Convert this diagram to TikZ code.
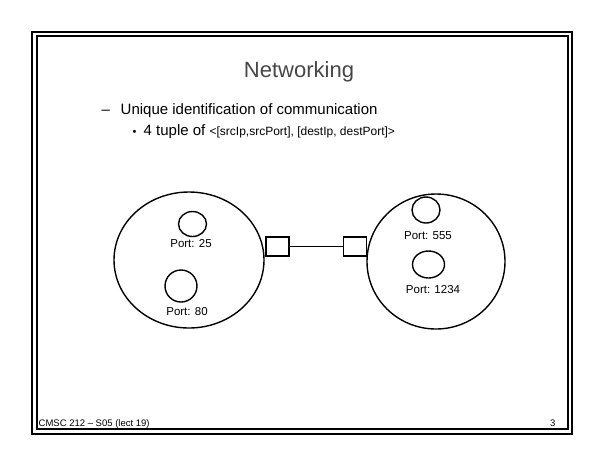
\documentclass[tikz,border=0pt]{standalone}
\usepackage{fontspec}
\setmainfont{Liberation Sans}
\usepackage{tikz}
\usetikzlibrary{shapes.geometric}
\definecolor{titlegray}{RGB}{70,70,70}

\begin{document}
\begin{tikzpicture}[x=1pt,y=-1pt,line width=1.4pt,
  host/.style={draw,ellipse,inner sep=0pt},
  portcirc/.style={draw,ellipse,inner sep=0pt},
  nic/.style={draw,rectangle,inner sep=0pt,minimum width=23pt,minimum height=19pt},
  portlabel/.style={inner sep=0pt,font=\fontsize{11.5}{13}\selectfont},
  bodytext/.style={anchor=base west,inner sep=0pt,font=\fontsize{15}{18}\selectfont}]
  \useasboundingbox (0,0) rectangle (605,467);
  % slide frame
  \draw (32,32) rectangle (572,434);
  \draw (37,36) rectangle (568,429);
  % title and bullets
  \node[anchor=base,inner sep=0pt,text=titlegray,font=\fontsize{22}{26}\selectfont] (title) at (299,77) {Networking};
  \node[bodytext] (dash) at (101,114) {--};
  \node[bodytext] (item) at (120,114) {Unique identification of communication};
  \node[bodytext,font=\fontsize{11}{13}\selectfont] (bullet) at (132,135) {\textbullet};
  \node[bodytext] (subitem) at (143,135) {4 tuple of {\fontsize{12}{14}\selectfont <[srcIp,srcPort], [destIp, destPort]>}};
  % the two hosts
  \node[host,minimum width=150pt,minimum height=136pt] (hostA) at (189,260) {};
  \node[host,minimum width=138pt,minimum height=135pt] (hostB) at (436,261.5) {};
  % ports
  \node[portcirc,minimum width=28pt,minimum height=25pt] (p25) at (192.5,224) {};
  \node[portcirc,minimum width=32pt,minimum height=32pt] (p80) at (181,286) {};
  \node[portcirc,minimum width=28pt,minimum height=26pt] (p555) at (426,210) {};
  \node[portcirc,minimum width=32pt,minimum height=27pt] (p1234) at (428.5,264.5) {};
  \node[portlabel] (l25) at (191,244) {Port: 25};
  \node[portlabel] (l80) at (187,312) {Port: 80};
  \node[portlabel] (l555) at (428,236) {Port: 555};
  \node[portlabel] (l1234) at (433,290) {Port: 1234};
  % network interfaces and link
  \node[nic] (nicA) at (277.5,246.5) {};
  \node[nic] (nicB) at (355,246.5) {};
  \draw (nicA) -- (nicB);
  % footer
  \node[anchor=base west,inner sep=0pt,font=\fontsize{9.5}{11}\selectfont] (footer) at (38,426) {CMSC 212 -- S05 (lect 19)};
  \node[anchor=base east,inner sep=0pt,font=\fontsize{9.5}{11}\selectfont] (pageno) at (556,426) {3};
\end{tikzpicture}
\end{document}
